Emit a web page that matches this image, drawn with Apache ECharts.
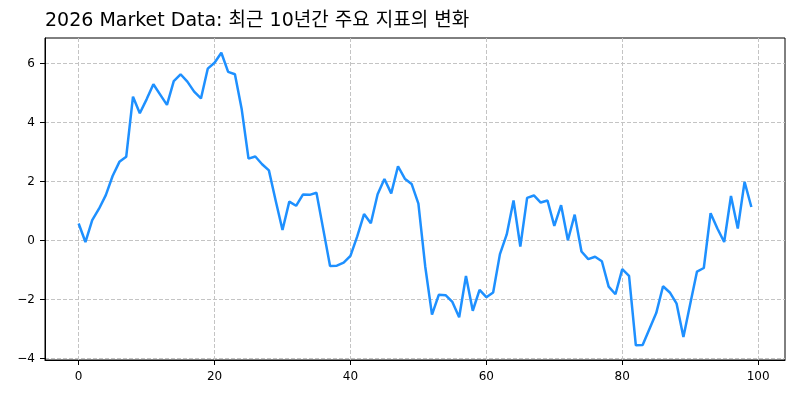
<!DOCTYPE html>
<html>
<head>
<meta charset="utf-8">
<script src="https://cdn.jsdelivr.net/npm/echarts@6/dist/echarts.min.js"></script>
<style>html,body{margin:0;padding:0;background:#fff}#c{width:800px;height:400px}</style>
</head>
<body>
<div id="c"></div>
<script>
const titleText = "2026 Market Data: 최근 10년간 주요 지표의 변화";
const values = [
  0.58, -0.05, 0.69, 1.08, 1.54, 2.19, 2.67, 2.84, 4.88, 4.32,
  4.79, 5.30, 4.95, 4.60, 5.41, 5.64, 5.39, 5.05, 4.82, 5.83,
  6.03, 6.37, 5.72, 5.64, 4.45, 2.78, 2.85, 2.59, 2.38, 1.35,
  0.36, 1.32, 1.18, 1.56, 1.55, 1.62, 0.38, -0.86, -0.85, -0.75,
  -0.52, 0.14, 0.90, 0.59, 1.57, 2.09, 1.60, 2.52, 2.10, 1.92,
  1.25, -0.87, -2.51, -1.84, -1.85, -2.08, -2.60, -1.20, -2.38, -1.67,
  -1.92, -1.76, -0.46, 0.21, 1.36, -0.20, 1.45, 1.53, 1.29, 1.36,
  0.50, 1.20, 0.01, 0.88, -0.37, -0.63, -0.55, -0.70, -1.56, -1.82,
  -0.97, -1.20, -3.55, -3.54, -3.00, -2.46, -1.55, -1.76, -2.14, -3.27,
  -2.15, -1.05, -0.93, 0.93, 0.41, -0.05, 1.51, 0.41, 1.99, 1.14
];
const xTicks = [0, 20, 40, 60, 80, 100];
const yTicks = [-4, -2, 0, 2, 4, 6];

const chart = echarts.init(document.getElementById('c'), null, {renderer: 'canvas'});
const fmt = v => String(v).replace('-', '\u2212');
const gridLine = {show: true, lineStyle: {color: '#c4c4c4', type: [4, 2], width: 1}};
chart.setOption({
  animation: false,
  title: {
    text: titleText, left: 45, top: 12, padding: 0,
    textStyle: {fontFamily: 'DejaVu Sans, "Noto Sans CJK KR"', fontSize: 19, fontWeight: 'normal', color: '#000'}
  },
  grid: {left: 45, right: 15, top: 38, bottom: 40, show: true, borderColor: '#000', borderWidth: 1, backgroundColor: 'transparent'},
  xAxis: {
    type: 'value', min: -4.95, max: 103.95,
    axisLine: {show: true, onZero: false, lineStyle: {color: '#000', width: 1}},
    axisTick: {show: true, length: 5, lineStyle: {color: '#000'}, customValues: xTicks},
    axisLabel: {customValues: xTicks, formatter: fmt, color: '#000', fontFamily: 'DejaVu Sans', fontSize: 12, margin: 11},
    splitLine: gridLine
  },
  yAxis: {
    type: 'value', min: -4.05, max: 6.87,
    axisLine: {show: true, onZero: false, lineStyle: {color: '#000', width: 1}},
    axisTick: {show: true, length: 5, lineStyle: {color: '#000'}, customValues: yTicks},
    axisLabel: {customValues: yTicks, formatter: fmt, color: '#000', fontFamily: 'DejaVu Sans', fontSize: 12, margin: 10},
    splitLine: gridLine
  },
  series: [{
    type: 'line',
    data: values.map((v, i) => [i, v]),
    showSymbol: false,
    lineStyle: {color: '#1E90FF', width: 2.5},
    itemStyle: {color: '#1E90FF'}
  }]
});
</script>
</body>
</html>
